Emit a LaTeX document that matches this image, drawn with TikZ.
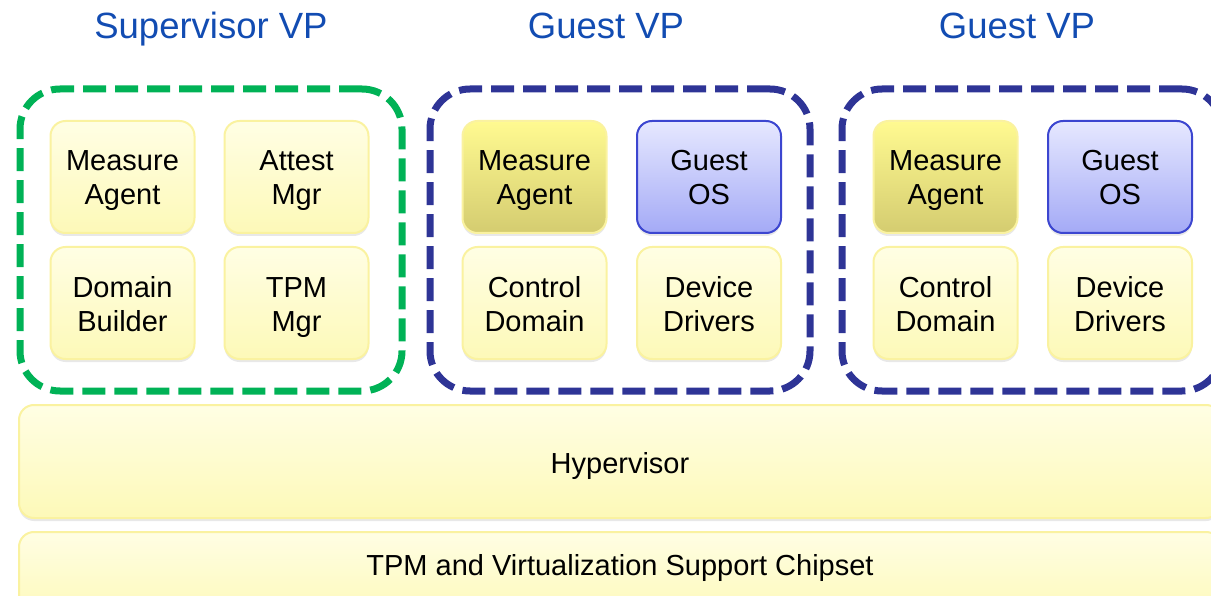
\documentclass[tikz,border=0pt]{standalone}
\usepackage{fontspec}
\setmainfont{Liberation Sans}
\usetikzlibrary{shadows}
\definecolor{titleblue}{RGB}{18,76,178}
\definecolor{vpgreen}{RGB}{0,178,86}
\definecolor{vpnavy}{RGB}{46,52,150}
\definecolor{paletop}{RGB}{255,254,228}
\definecolor{palebot}{RGB}{253,249,184}
\definecolor{paleedge}{RGB}{250,242,160}
\definecolor{oltop}{RGB}{255,250,145}
\definecolor{olbot}{RGB}{212,204,112}
\definecolor{ostop}{RGB}{230,232,255}
\definecolor{osbot}{RGB}{164,170,246}
\definecolor{osedge}{RGB}{60,70,208}
\tikzset{
  title/.style={font=\fontsize{36.5}{44}\selectfont, text=titleblue, anchor=base},
  vpbox/.style={draw, line width=7pt, rounded corners=40pt, dash pattern=on 23pt off 9pt,
    minimum height=302pt, inner sep=0pt},
  comp/.style={rounded corners=15pt, line width=2pt, minimum width=144pt, minimum height=112pt,
    align=center, font=\fontsize{29}{34}\selectfont, inner sep=0pt,
    text height=60pt, text depth=4pt,
    drop shadow={opacity=0.18, shadow xshift=0pt, shadow yshift=-3pt}},
  pale/.style={comp, draw=paleedge, top color=paletop, bottom color=palebot},
  olive/.style={comp, draw=paleedge, top color=oltop, bottom color=olbot},
  guestos/.style={comp, draw=osedge, top color=ostop, bottom color=osbot},
  layer/.style={rounded corners=15pt, line width=2pt, draw=paleedge,
    top color=paletop, bottom color=palebot, minimum width=1202pt, inner sep=0pt,
    drop shadow={opacity=0.18, shadow xshift=0pt, shadow yshift=-3pt}},
  label/.style={font=\fontsize{29}{34}\selectfont, anchor=base}
}
\begin{document}
\begin{tikzpicture}[x=1pt,y=-1pt]
\useasboundingbox (0,0) rectangle (1211,596);
\begin{scope}
\clip (0,0) rectangle (1211,596);

% column titles
\node[title] (tsv) at (211,39) {Supervisor VP};
\node[title] (tg1) at (606,39) {Guest VP};
\node[title] (tg2) at (1017,39) {Guest VP};

% platform layers
\node[layer, minimum height=113pt] (hyp) at (620,461.5) {};
\node[label] (hyptext) at (620,473) {Hypervisor};
\node[layer, minimum height=88pt] (chip) at (620,576) {};
\node[label] (chiptext) at (620,575) {TPM and Virtualization Support Chipset};

% supervisor partition
\node[vpbox, draw=vpgreen, minimum width=382pt] (sv) at (211,240) {};
\node[pale] (svma) at (122.5,177) {Measure\\Agent};
\node[pale] (svam) at (296.5,177) {Attest\\Mgr};
\node[pale] (svdb) at (122.5,303) {Domain\\Builder};
\node[pale] (svtm) at (296.5,303) {TPM\\Mgr};

% first guest partition
\node[vpbox, draw=vpnavy, minimum width=380pt] (ga) at (620,240) {};
\node[olive] (gama) at (534.5,177) {Measure\\Agent};
\node[guestos] (gaos) at (709,177) {Guest\\OS};
\node[pale] (gacd) at (534.5,303) {Control\\Domain};
\node[pale] (gadd) at (709,303) {Device\\Drivers};

% second guest partition
\node[vpbox, draw=vpnavy, minimum width=380pt] (gb) at (1032,240) {};
\node[olive] (gbma) at (945.5,177) {Measure\\Agent};
\node[guestos] (gbos) at (1120,177) {Guest\\OS};
\node[pale] (gbcd) at (945.5,303) {Control\\Domain};
\node[pale] (gbdd) at (1120,303) {Device\\Drivers};
\end{scope}
\end{tikzpicture}
\end{document}
